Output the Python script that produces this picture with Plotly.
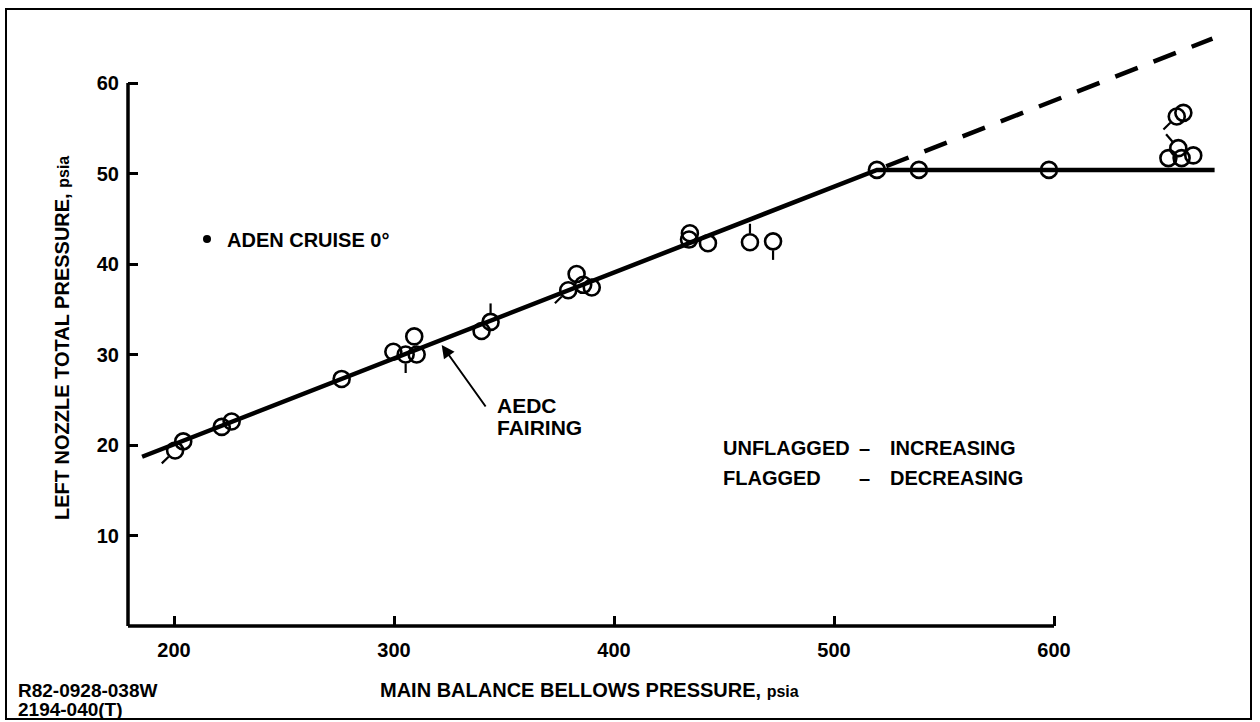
import plotly.graph_objects as go

# ---------------- data ----------------
bellows_psia = [200.5, 204.2, 221.7, 226.2, 276.2, 299.7, 305.3, 309.2, 310.3,
                339.8, 343.9, 379.2, 383.0, 386.0, 389.9, 434.5, 434.1, 442.7,
                461.8, 472.3, 519.5, 538.6, 597.7, 652.0, 656.5, 658.0, 663.3,
                655.8, 658.8]
nozzle_psia = [19.4, 20.4, 22.0, 22.6, 27.3, 30.3, 30.0, 32.0, 30.0,
               32.6, 33.6, 37.1, 38.9, 37.7, 37.4, 43.4, 42.7, 42.3,
               42.4, 42.5, 50.4, 50.4, 50.4, 51.7, 52.8, 51.7, 52.0,
               56.3, 56.7]
# flag direction: '' unflagged (increasing), otherwise flagged (decreasing)
flag_dir = ['dl', '', '', '', '', '', 'd', '', '',
            '', 'u', 'dl', '', '', '', '', '', '',
            'u', 'd', '', '', '', '', 'ul', '', '',
            'dl', '']

fairing_x = [185.5, 519.5, 673.0]
fairing_y = [18.7, 50.4, 50.4]
extension_x = [519.5, 672.0]
extension_y = [50.4, 64.9]

x_ticks = [200, 300, 400, 500, 600]
y_ticks = [10, 20, 30, 40, 50, 60]

# ---------------- layout geometry ----------------
W, H = 1260, 722
ML, MR, MT, MB = 128, 15, 15, 96
PW, PH = W - ML - MR, H - MT - MB
SX = 2.2      # px per psia (x)
SY = 9.05     # px per psia (y)
X0 = 200 - (174 - ML) / SX
X1 = X0 + PW / SX
Y0 = 0.0
Y1 = PH / SY


def px_x(px):
    return (px - ML) / PW


def px_y(py):
    return (H - MB - py) / PH


FONT = "Liberation Sans, Arial, Helvetica, sans-serif"

# flag segments built from the data points
dirs = {'u': (0.0, -1.0), 'd': (0.0, 1.0), 'dl': (-0.72, 0.70), 'ul': (-0.66, -0.75)}
fx, fy = [], []
for x, y, d in zip(bellows_psia, nozzle_psia, flag_dir):
    if not d:
        continue
    vx, vy = dirs[d]
    for r in (9.0, 18.5):
        fx.append(x + vx * r / SX)
        fy.append(y - vy * r / SY)
    fx.append(None)
    fy.append(None)

fig = go.Figure()

fig.add_trace(go.Scatter(x=fairing_x, y=fairing_y, mode='lines',
                         line=dict(color='black', width=4.5),
                         showlegend=False, hoverinfo='skip'))
fig.add_trace(go.Scatter(x=extension_x, y=extension_y, mode='lines',
                         line=dict(color='black', width=4.5,
                                   dash='0px,10px,24px,7px'),
                         showlegend=False, hoverinfo='skip'))
fig.add_trace(go.Scatter(x=fx, y=fy, mode='lines',
                         line=dict(color='black', width=2.2),
                         showlegend=False, hoverinfo='skip'))
fig.add_trace(go.Scatter(x=bellows_psia, y=nozzle_psia, mode='markers',
                         marker=dict(symbol='circle-open', size=16, color='black',
                                     line=dict(width=2.6, color='black')),
                         showlegend=False))
fig.add_trace(go.Scatter(x=[None], y=[None], mode='markers',
                         marker=dict(symbol='circle', size=8, color='black'),
                         name='<b>ADEN CRUISE 0°</b>', showlegend=True))

axis_common = dict(showgrid=False, zeroline=False, showline=False,
                   ticks='inside', ticklen=10, tickwidth=2.5, tickcolor='black',
                   tickfont=dict(family=FONT, size=20, color='black', weight='bold'))

fig.update_xaxes(range=[X0, X1], tickvals=x_ticks, ticklabelstandoff=10,
                 **axis_common)
fig.update_yaxes(range=[Y0, Y1], tickvals=y_ticks, ticklabelstandoff=8,
                 **axis_common)

shapes = [
    # axis lines
    dict(type='line', xref='paper', yref='y', x0=0, x1=0, y0=0, y1=60,
         line=dict(color='black', width=3.5)),
    dict(type='line', xref='x', yref='paper', x0=X0, x1=600, y0=0, y1=0,
         line=dict(color='black', width=3.5)),
    # frame
    dict(type='rect', xref='paper', yref='paper',
         x0=px_x(6), x1=px_x(1251), y0=px_y(719), y1=px_y(9),
         line=dict(color='black', width=2)),
]


def txt(text, px, py, xanchor='left', size=20, angle=0):
    return dict(text=text, xref='paper', yref='paper', x=px_x(px), y=px_y(py),
                xanchor=xanchor, yanchor='middle', showarrow=False,
                textangle=angle, align='left',
                font=dict(family=FONT, size=size, color='black'))


annotations = [
    txt('<b>MAIN BALANCE BELLOWS PRESSURE, </b><b style="font-size:16px">psia</b>',
        589, 690, xanchor='center', size=20),
    txt('<b>LEFT NOZZLE TOTAL PRESSURE, </b><b style="font-size:16px">psia</b>',
        62, 338, xanchor='center', size=20, angle=-90),
    txt('<b>R82-0928-038W</b>', 16, 690, size=19),
    txt('<b>2194-040(T)</b>', 16, 709, size=19),
    txt('<b>AEDC</b>', 495, 405, size=21),
    txt('<b>FAIRING</b>', 495, 427, size=21),
    txt('<b>UNFLAGGED</b>', 721, 448),
    txt('<b>FLAGGED</b>', 721, 478),
    txt('<b>–</b>', 857, 448),
    txt('<b>–</b>', 857, 478),
    txt('<b>INCREASING</b>', 888, 448),
    txt('<b>DECREASING</b>', 888, 478),
    # arrow to the fairing line
    dict(x=X0 + (441.7 - ML) / SX, y=(H - MB - 345) / SY, xref='x', yref='y',
         text='', showarrow=True, arrowhead=2, arrowsize=1.3, arrowwidth=2,
         arrowcolor='black', ax=45, ay=63),
]

fig.update_layout(
    width=W, height=H,
    margin=dict(l=ML, r=MR, t=MT, b=MB, pad=0),
    paper_bgcolor='white', plot_bgcolor='white',
    font=dict(family=FONT, color='black'),
    shapes=shapes, annotations=annotations,
    showlegend=True,
    legend=dict(x=px_x(187), y=px_y(239), xanchor='left', yanchor='middle',
                bgcolor='rgba(0,0,0,0)', borderwidth=0,
                font=dict(family=FONT, size=20, color='black')),
)

fig.write_html("out.html",
               config={'displayModeBar': False},
               post_script="document.body.style.margin='0';"
                           "document.body.style.overflow='hidden';")
